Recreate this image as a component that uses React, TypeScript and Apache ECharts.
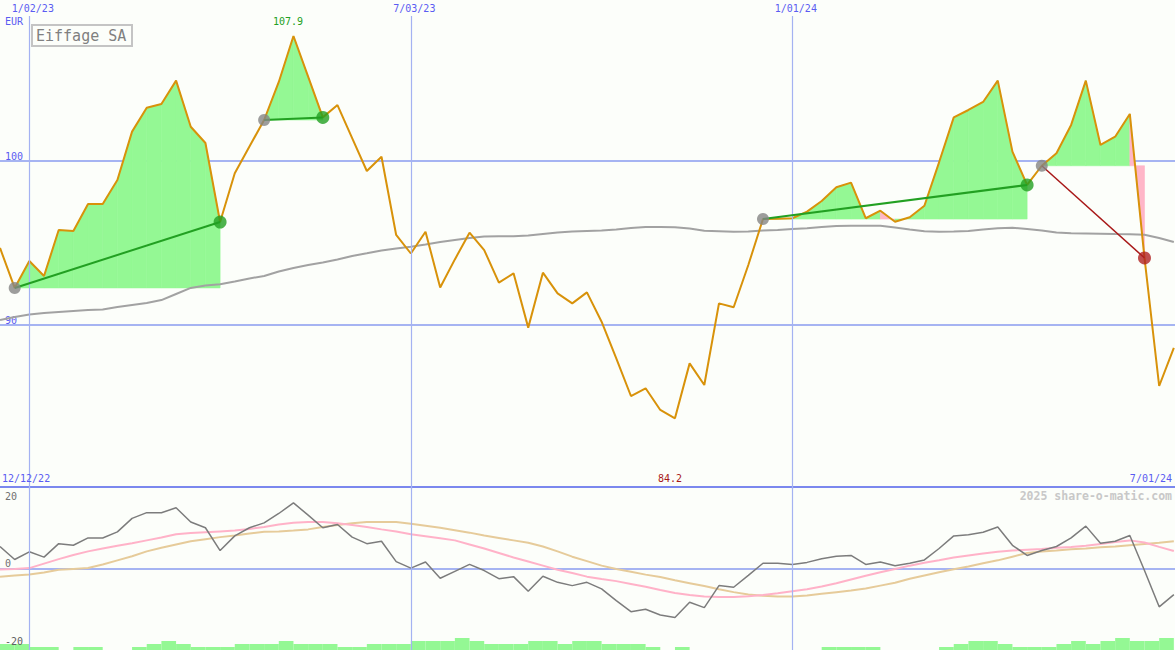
import React, { useEffect, useRef } from 'react';
import * as echarts from 'echarts';

// ---------- data ----------
const price = [
  94.70, 92.26, 93.90, 92.99, 95.79, 95.73, 97.38, 97.38, 98.84, 101.79,
  103.25, 103.48, 104.90, 102.09, 101.10, 96.28, 99.25, 100.88, 102.50, 104.82,
  107.62, 105.15, 102.66, 103.41, 101.40, 99.39, 100.26, 95.49, 94.36, 95.69,
  92.29, 94.00, 95.63, 94.57, 92.58, 93.15, 89.84, 93.19, 91.93, 91.32,
  91.99, 90.20, 87.97, 85.67, 86.14, 84.82, 84.31, 87.66, 86.34, 91.32,
  91.08, 93.66, 96.46, 96.48, 96.51, 96.91, 97.56, 98.40, 98.68, 96.51,
  96.97, 96.30, 96.57, 97.27, 99.92, 102.66, 103.11, 103.60, 104.90, 100.57,
  98.54, 99.71, 100.47, 102.20, 104.90, 100.98, 101.48, 102.87, 94.09, 86.28,
  88.60,
];

const movingAvg = [
  90.30, 90.49, 90.64, 90.73, 90.79, 90.85, 90.91, 90.95, 91.10, 91.22,
  91.34, 91.52, 91.89, 92.26, 92.41, 92.48, 92.65, 92.84, 92.99, 93.26,
  93.48, 93.66, 93.81, 93.99, 94.21, 94.37, 94.54, 94.66, 94.77, 94.91,
  95.06, 95.18, 95.30, 95.40, 95.41, 95.41, 95.46, 95.55, 95.64, 95.70,
  95.73, 95.76, 95.82, 95.91, 95.98, 95.98, 95.96, 95.88, 95.75, 95.72,
  95.69, 95.70, 95.76, 95.79, 95.85, 95.90, 95.98, 96.04, 96.05, 96.05,
  96.05, 95.94, 95.82, 95.71, 95.69, 95.70, 95.73, 95.82, 95.90, 95.93,
  95.85, 95.76, 95.64, 95.59, 95.58, 95.57, 95.55, 95.54, 95.50, 95.30,
  95.06,
];

const momentum = [
  5.4, 2.2, 4.1, 2.8, 6.1, 5.7, 7.5, 7.5, 9.0, 12.3,
  13.7, 13.7, 14.9, 11.4, 10.0, 4.4, 8.0, 10.0, 11.2, 13.5,
  16.1, 13.1, 10.0, 10.8, 7.7, 6.1, 6.7, 1.7, 0.1, 1.6,
  -2.4, -0.7, 1.0, -0.5, -2.5, -2.0, -5.6, -1.9, -3.4, -4.2,
  -3.4, -5.0, -7.9, -10.6, -10.0, -11.4, -12.0, -8.3, -9.6, -4.2,
  -4.6, -1.7, 1.3, 1.3, 1.0, 1.5, 2.4, 3.0, 3.2, 1.0,
  1.6, 0.7, 1.3, 2.1, 4.9, 8.0, 8.3, 8.9, 10.2, 5.7,
  3.2, 4.4, 5.4, 7.5, 10.4, 6.2, 6.7, 8.1, -0.5, -9.4,
  -6.4,
];

const signalFast = [
  -0.25, -0.1, 0.1, 1.2, 2.3, 3.3, 4.2, 4.9, 5.6, 6.2,
  6.9, 7.6, 8.4, 8.7, 8.9, 9.1, 9.3, 9.7, 10.2, 10.8,
  11.2, 11.4, 11.4, 11.1, 10.7, 10.2, 9.6, 9.1, 8.4, 7.9,
  7.4, 6.9, 5.9, 4.9, 3.8, 2.7, 1.7, 0.7, -0.3, -1.1,
  -2.0, -2.6, -3.1, -3.8, -4.5, -5.3, -6.0, -6.5, -6.9, -7.0,
  -7.0, -6.8, -6.5, -6.1, -5.6, -5.1, -4.4, -3.6, -2.7, -1.8,
  -0.9, -0.1, 0.7, 1.4, 2.0, 2.7, 3.2, 3.7, 4.1, 4.4,
  4.6, 4.8, 5.1, 5.3, 5.6, 6.0, 6.5, 6.9, 6.4, 5.3,
  4.3,
];

const signalSlow = [
  -2.0, -1.7, -1.5, -1.0, -0.3, -0.1, 0.1, 1.0, 2.0, 3.0,
  4.2, 5.1, 5.9, 6.7, 7.2, 7.7, 8.1, 8.6, 9.0, 9.1,
  9.3, 9.6, 10.2, 10.7, 11.1, 11.4, 11.4, 11.4, 11.0, 10.5,
  10.0, 9.4, 8.8, 8.1, 7.5, 6.9, 6.3, 5.4, 4.2, 2.9,
  1.8, 0.7, -0.1, -0.8, -1.5, -2.1, -2.9, -3.6, -4.3, -5.1,
  -5.8, -6.4, -6.7, -6.9, -6.9, -6.6, -6.2, -5.8, -5.4, -4.9,
  -4.2, -3.5, -2.5, -1.7, -0.9, -0.2, 0.5, 1.3, 2.0, 2.9,
  3.8, 4.2, 4.4, 4.7, 4.9, 5.2, 5.4, 5.7, 6.0, 6.3,
  6.7,
];

// weekly bars between consecutive weeks (80 intervals)
const volumeLevels = [
  2, 2, 1, 1, 0, 1, 1, 0, 0, 1,
  2, 3, 2, 1, 1, 1, 2, 2, 2, 3,
  2, 2, 2, 1, 1, 2, 2, 2, 3, 3,
  3, 4, 3, 2, 2, 2, 3, 3, 2, 3,
  3, 2, 2, 2, 1, 0, 1, 0, 0, 0,
  0, 0, 0, 0, 0, 0, 1, 1, 1, 1,
  0, 0, 0, 0, 1, 2, 3, 3, 2, 1,
  1, 1, 2, 3, 2, 3, 4, 3, 3, 4,
];

const tradeStart = [1, 18, 52, 71];
const tradeEnd = [15, 22, 70, 78];
const tradeWin = [true, true, true, false];

const dateTickWeeks = [2, 28, 54];
const dateTickLabels = ['1/02/23', '7/03/23', '1/01/24'];
const firstDateLabel = '12/12/22';
const lastDateLabel = '7/01/24';
const highLabel = '107.9';
const lowLabel = '84.2';

// ---------- styles ----------
const MONO = "'DejaVu Sans Mono', 'Liberation Mono', monospace";
const BLUE = '#5a5cf2';
const GRID_BLUE = '#a6b4f2';
const FILL_GREEN = '#94f894';
const FILL_PINK = '#ffb6c8';
const ORANGE = '#d8920a';
const TRADE_GREEN = '#22a022';
const TRADE_RED = '#a81818';
const XMAX = 1175 / 14.673;
const TOP_PX_PER_UNIT = 16.4;
const TOP_H = 473;

const pts = (arr: number[]) => arr.map((v, i) => [i, v]);

function buildOption() {
  const segments: number[][] = [];
  tradeStart.forEach((s, t) => {
    const base = price[s];
    for (let i = s; i < tradeEnd[t]; i++) {
      segments.push([i, price[i], i + 1, price[i + 1], base, price[i + 1] >= base ? 1 : 0]);
    }
  });

  const tradeLineSeries = tradeStart.map((s, t) => ({
    type: 'line',
    xAxisIndex: 0,
    yAxisIndex: 0,
    data: [[s, price[s]], [tradeEnd[t], price[tradeEnd[t]]]],
    showSymbol: false,
    silent: true,
    z: 5,
    lineStyle: { color: tradeWin[t] ? TRADE_GREEN : TRADE_RED, width: tradeWin[t] ? 2 : 1.5 },
  }));

  const vLineMark = {
    silent: true,
    symbol: ['none', 'none'],
    label: { show: false },
    lineStyle: { color: '#a4b2f2', width: 1.2, type: 'solid' },
    emphasis: { disabled: true },
    data: dateTickWeeks.map((w) => ({ xAxis: w })),
  };

  return {
    animation: false,
    backgroundColor: '#fcfefa',
    title: {
      text: 'Eiffage SA',
      left: 32,
      top: 25,
      padding: [3, 6, 3, 4],
      borderColor: '#c4c4c4',
      borderWidth: 2,
      textStyle: { fontFamily: MONO, fontSize: 15, fontWeight: 'normal', color: '#808080' },
    },
    grid: [
      { left: 0, right: 0, top: 16, height: TOP_H },
      { left: 0, right: 0, top: 487, height: 163 },
    ],
    xAxis: [
      {
        gridIndex: 0,
        type: 'value',
        min: 0,
        max: XMAX,
        position: 'top',
        axisLine: { show: false },
        axisTick: { show: false },
        splitLine: { show: false },
        axisLabel: {
          customValues: dateTickWeeks,
          formatter: (v: number) => {
            const k = dateTickWeeks.indexOf(Math.round(v));
            return k >= 0 ? dateTickLabels[k] : '';
          },
          color: BLUE,
          fontFamily: MONO,
          fontSize: 10,
          margin: 3,
          padding: [0, 0, 0, 7],
        },
      },
      {
        gridIndex: 1,
        type: 'value',
        min: 0,
        max: XMAX,
        position: 'top',
        axisLine: { show: true, onZero: false, lineStyle: { color: '#7b88ee', width: 2 } },
        axisTick: { show: false },
        splitLine: { show: false },
        axisLabel: { show: false },
      },
    ],
    yAxis: [
      {
        gridIndex: 0,
        type: 'value',
        min: 80,
        max: 80 + TOP_H / TOP_PX_PER_UNIT,
        interval: 10,
        axisLine: { show: false },
        axisTick: { show: false },
        splitLine: {
          show: true,
          showMinLine: false,
          showMaxLine: false,
          lineStyle: { color: GRID_BLUE, width: 2 },
        },
        axisLabel: {
          inside: true,
          showMinLabel: false,
          showMaxLabel: false,
          verticalAlign: 'bottom',
          color: BLUE,
          fontFamily: MONO,
          fontSize: 10,
          margin: 5,
        },
      },
      {
        gridIndex: 1,
        type: 'value',
        min: -20,
        max: 20,
        interval: 20,
        axisLine: { show: false },
        axisTick: { show: false },
        splitLine: {
          show: true,
          showMinLine: false,
          showMaxLine: false,
          lineStyle: { color: GRID_BLUE, width: 2 },
        },
        axisLabel: {
          inside: true,
          showMinLabel: false,
          showMaxLabel: false,
          verticalAlign: 'bottom',
          color: '#707070',
          fontFamily: MONO,
          fontSize: 10,
          margin: 5,
        },
      },
      {
        gridIndex: 1,
        type: 'value',
        min: 0,
        max: 163 / 3,
        show: false,
      },
    ],
    series: [
      {
        type: 'custom',
        xAxisIndex: 0,
        yAxisIndex: 0,
        silent: true,
        z: 1,
        data: segments,
        encode: { x: [0, 2], y: [1, 3, 4] },
        renderItem: (_p: any, api: any) => {
          const p0 = api.coord([api.value(0), api.value(1)]);
          const p1 = api.coord([api.value(2), api.value(3)]);
          const q1 = api.coord([api.value(2), api.value(4)]);
          const q0 = api.coord([api.value(0), api.value(4)]);
          const c = api.value(5) ? FILL_GREEN : FILL_PINK;
          return {
            type: 'polygon',
            shape: { points: [p0, p1, q1, q0] },
            style: { fill: c, stroke: c, lineWidth: 0.6 },
          };
        },
      },
      {
        type: 'line',
        xAxisIndex: 0,
        yAxisIndex: 0,
        data: pts(movingAvg),
        showSymbol: false,
        silent: true,
        z: 2,
        lineStyle: { color: '#a2a2a2', width: 2 },
        markLine: vLineMark,
      },
      {
        type: 'line',
        xAxisIndex: 0,
        yAxisIndex: 0,
        data: pts(price),
        showSymbol: false,
        silent: true,
        z: 4,
        lineStyle: { color: ORANGE, width: 2 },
      },
      ...tradeLineSeries,
      {
        type: 'scatter',
        xAxisIndex: 0,
        yAxisIndex: 0,
        silent: true,
        z: 6,
        symbolSize: 12,
        itemStyle: { color: '#848484' },
        data: tradeStart.map((s) => [s, price[s]]),
      },
      {
        type: 'scatter',
        xAxisIndex: 0,
        yAxisIndex: 0,
        silent: true,
        z: 6,
        symbolSize: 13,
        itemStyle: { color: TRADE_GREEN },
        data: tradeEnd.filter((_e, t) => tradeWin[t]).map((e) => [e, price[e]]),
      },
      {
        type: 'scatter',
        xAxisIndex: 0,
        yAxisIndex: 0,
        silent: true,
        z: 6,
        symbolSize: 13,
        itemStyle: { color: '#b02222' },
        data: tradeEnd.filter((_e, t) => !tradeWin[t]).map((e) => [e, price[e]]),
      },
      // lower panel
      {
        type: 'custom',
        xAxisIndex: 1,
        yAxisIndex: 2,
        silent: true,
        z: 1,
        data: volumeLevels.map((v, k) => [k, v]),
        encode: { x: 0, y: 1 },
        renderItem: (_p: any, api: any) => {
          const v = api.value(1);
          if (!v) return null;
          const a = api.coord([api.value(0), v]);
          const b = api.coord([api.value(0) + 1, 0]);
          return {
            type: 'rect',
            shape: { x: a[0], y: a[1], width: b[0] - a[0], height: b[1] - a[1] },
            style: { fill: FILL_GREEN },
          };
        },
      },
      {
        type: 'line',
        xAxisIndex: 1,
        yAxisIndex: 1,
        data: pts(signalSlow),
        showSymbol: false,
        silent: true,
        z: 2,
        lineStyle: { color: '#e6cb9a', width: 2 },
        markLine: vLineMark,
      },
      {
        type: 'line',
        xAxisIndex: 1,
        yAxisIndex: 1,
        data: pts(signalFast),
        showSymbol: false,
        silent: true,
        z: 3,
        lineStyle: { color: '#ffb2c8', width: 2 },
      },
      {
        type: 'line',
        xAxisIndex: 1,
        yAxisIndex: 1,
        data: pts(momentum),
        showSymbol: false,
        silent: true,
        z: 4,
        lineStyle: { color: '#7c7c7c', width: 1.5 },
      },
    ],
    graphic: [
      { type: 'text', left: 5, top: 16, z: 50, style: { text: 'EUR', fill: BLUE, font: `10px ${MONO}` } },
      { type: 'text', left: 273, top: 16, z: 50, style: { text: highLabel, fill: TRADE_GREEN, font: `10px ${MONO}` } },
      { type: 'text', left: 658, top: 473, z: 50, style: { text: lowLabel, fill: TRADE_RED, font: `10px ${MONO}` } },
      { type: 'text', left: 2, top: 473, z: 50, style: { text: firstDateLabel, fill: BLUE, font: `10px ${MONO}` } },
      { type: 'text', right: 3, top: 473, z: 50, style: { text: lastDateLabel, fill: BLUE, font: `10px ${MONO}` } },
      { type: 'text', left: 5, top: 491, z: 50, style: { text: '20', fill: '#707070', font: `10px ${MONO}` } },
      { type: 'text', left: 5, top: 636, z: 50, style: { text: '-20', fill: '#606060', font: `10px ${MONO}` } },
      {
        type: 'text',
        right: 3,
        top: 490,
        z: 50,
        style: { text: '2025 share-o-matic.com', fill: '#c8c8c8', font: `bold 11.5px ${MONO}` },
      },
    ],
  };
}

export default function App() {
  const ref = useRef<HTMLDivElement>(null);
  useEffect(() => {
    if (!ref.current) return;
    const chart = echarts.init(ref.current, null, { renderer: 'svg' });
    chart.setOption(buildOption() as any);
    return () => chart.dispose();
  }, []);
  return (
    <div
      ref={ref}
      style={{ position: 'absolute', left: 0, top: 0, width: 1175, height: 650 }}
    />
  );
}
